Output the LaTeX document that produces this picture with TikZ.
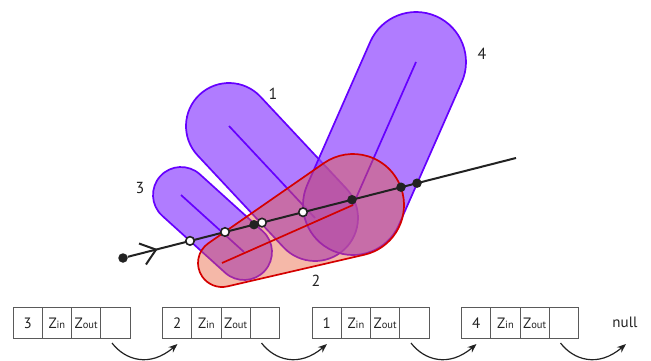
\documentclass[tikz,border=0pt]{standalone}
\usepackage{fontspec}
\setmainfont{PT Sans}
\usetikzlibrary{calc,arrows.meta}
\definecolor{capfill}{RGB}{142,68,255}
\definecolor{capline}{RGB}{102,0,255}
\definecolor{redfill}{RGB}{232,90,53}
\definecolor{redline}{RGB}{212,0,0}
\definecolor{ink}{RGB}{34,34,34}
\definecolor{boxline}{RGB}{90,90,90}
\newcommand\capsuleshape[4]{% A, B, radius, perpendicular angle
  \draw[capsule] ($(#1)+(#4:#3)$) -- ($(#2)+(#4:#3)$)
    arc[start angle=#4, delta angle=-180, radius=#3]
    -- ($(#1)+(#4+180:#3)$)
    arc[start angle=#4+180, delta angle=-180, radius=#3] -- cycle;
  \draw[axisline] (#1) -- (#2);
}
\begin{document}
\begin{tikzpicture}[x=1pt,y=1pt,
  capsule/.style={draw=capline, line width=1.7pt, fill=capfill, fill opacity=0.7},
  axisline/.style={draw=capline, line width=1.7pt},
  redshape/.style={draw=redline, line width=1.7pt, fill=redfill, fill opacity=0.43},
  redaxis/.style={draw=redline, line width=1.7pt},
  pathline/.style={draw=ink, line width=2pt},
  fulldot/.style={circle, fill=ink, inner sep=0pt, minimum size=9.5pt},
  opendot/.style={circle, draw=ink, fill=white, line width=1.6pt, inner sep=0pt, minimum size=8.5pt},
  numlabel/.style={font=\fontsize{16}{18}\selectfont, text=ink, inner sep=0pt},
  cell/.style={draw=boxline, line width=1pt, minimum width=29.25pt, minimum height=31pt, inner sep=0pt, font=\fontsize{15}{16}\selectfont, text=ink},
  flowarrow/.style={draw=ink, line width=1.2pt, -{Stealth[length=9pt,width=7pt]}}
]
\useasboundingbox (0,0) rectangle (651,360);

% capsule centres
\coordinate (c3a) at (181,165);
\coordinate (c3b) at (244,108);
\coordinate (c1a) at (229,234);
\coordinate (c1b) at (315,142);
\coordinate (c4a) at (416,298);
\coordinate (c4b) at (353,155);
\coordinate (r1) at (222,97);
\coordinate (r2) at (353,155);

\capsuleshape{c3a}{c3b}{28}{47.86}
\capsuleshape{c1a}{c1b}{43}{43.07}
\capsuleshape{c4a}{c4b}{50}{-23.78}

% red tapered capsule
\draw[redshape] ($(r1)+(-76.98:24)$) -- ($(r2)+(-76.98:51)$)
  arc[start angle=-76.98, end angle=124.74, radius=51]
  -- ($(r1)+(124.74:24)$)
  arc[start angle=124.74, end angle=283.02, radius=24] -- cycle;
\draw[redaxis] (r1) -- (r2);

% black path
\node[fulldot] (s) at (123,102) {};
\coordinate (e) at (516,202);
\draw[pathline] (s) -- (e);
\coordinate (chtip) at (156,110.4);
\coordinate (ch1) at (139,116.5);
\coordinate (ch2) at (146,95.5);
\draw[pathline] (ch1) -- (chtip) -- (ch2);
\node[opendot] (o1) at (190,119.1) {};
\node[opendot] (o2) at (225,128) {};
\node[fulldot] (b1) at (254,135.3) {};
\node[opendot] (o3) at (262,137.4) {};
\node[opendot] (o4) at (303,147.8) {};
\node[fulldot] (b2) at (352,160.3) {};
\node[fulldot] (b3) at (401,172.8) {};
\node[fulldot] (b4) at (417,176.8) {};

% labels
\node[numlabel] (l1) at (273,266) {1};
\node[numlabel] (l2) at (316,79) {2};
\node[numlabel] (l3) at (140,172) {3};
\node[numlabel] (l4) at (482,306) {4};

% linked list
\foreach \lab [count=\i] in {3,2,1,4} {
  \node[cell] (g\i-1) at ({13+149.5*(\i-1)+14.625},37) {\lab};
  \node[cell] (g\i-2) at ({13+149.5*(\i-1)+43.875},37) {Z{\fontsize{10.5}{10}\selectfont in}};
  \node[cell] (g\i-3) at ({13+149.5*(\i-1)+73.125},37) {Z{\fontsize{10.5}{10}\selectfont out}};
  \node[cell] (g\i-4) at ({13+149.5*(\i-1)+102.375},37) {};
  \coordinate (as\i) at ({13+149.5*(\i-1)+99},17);
  \coordinate (at\i) at ({13+149.5*\i+15},16);
  \draw[flowarrow] (as\i) .. controls +(13,-17) and +(-28,-24) .. (at\i);
}
\node[font=\fontsize{15}{16}\selectfont, text=ink, inner sep=0pt] (null) at (625,38) {null};
\end{tikzpicture}
\end{document}
